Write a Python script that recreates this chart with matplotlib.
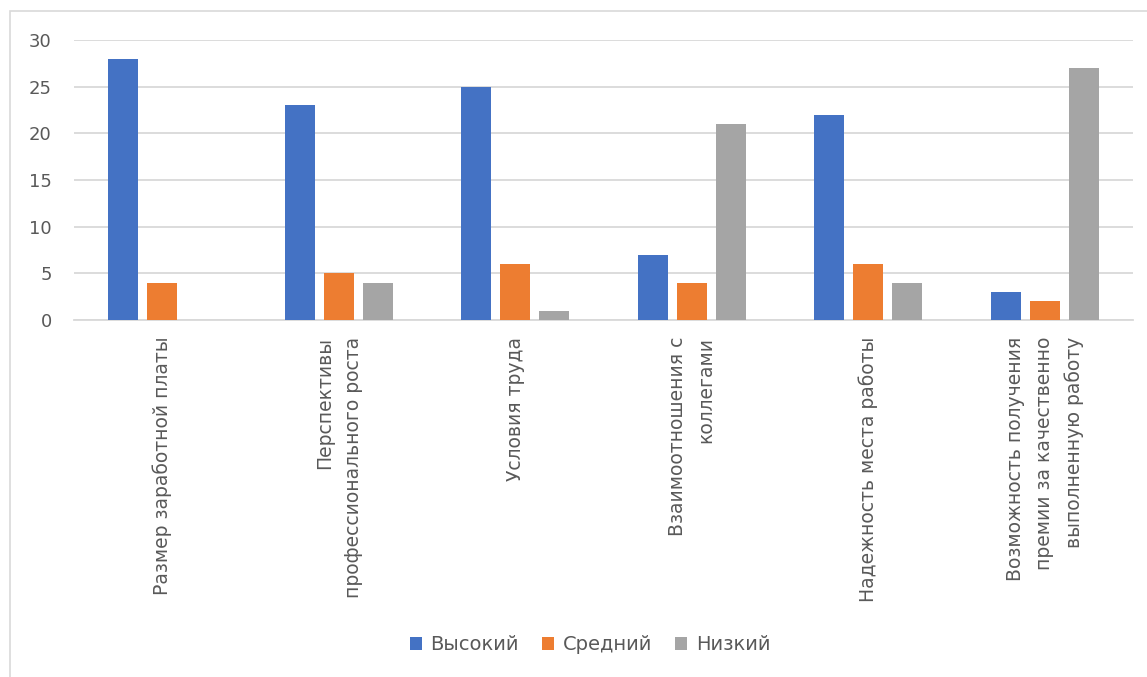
import matplotlib.pyplot as plt
import numpy as np
from matplotlib.patches import Rectangle

plt.rcParams['font.family'] = ['DejaVu Sans']

# data
categories = ["Размер заработной платы",
              "Перспективы\nпрофессионального роста",
              "Условия труда",
              "Взаимоотношения с\nколлегами",
              "Надежность места работы",
              "Возможность получения\nпремии за качественно\nвыполненную работу"]
high = [28, 23, 25, 7, 22, 3]
mid = [4, 5, 6, 4, 6, 2]
low = [0, 4, 1, 21, 4, 27]
series_names = ["Высокий", "Средний", "Низкий"]
colors = ["#4472c4", "#ed7d31", "#a5a5a5"]

txt = "#595959"
grid = "#d9d9d9"

fig = plt.figure(figsize=(11.47, 6.77), dpi=100)
ax = fig.add_axes([74/1147, 1-320/677, (1133-74)/1147, 280/677])

x = np.arange(len(categories))
w = 0.17
off = 0.222
for k, vals in enumerate([high, mid, low]):
    ax.bar(x + (k-1)*off, vals, width=w, color=colors[k], label=series_names[k], zorder=3)

ax.set_xlim(-0.5, len(categories)-0.5)
ax.set_ylim(0, 30)
ax.set_yticks(range(0, 31, 5))
ax.yaxis.grid(True, color=grid, linewidth=1.3, zorder=0)
for s in ["top", "right", "left"]:
    ax.spines[s].set_visible(False)
ax.spines["bottom"].set_color(grid)
ax.spines["bottom"].set_linewidth(1.3)
ax.tick_params(axis="y", length=0, labelsize=13, labelcolor=txt, pad=16)
ax.tick_params(axis="x", length=0)
ax.set_xticks(x)
ax.set_xticklabels([])

for i, lab in enumerate(categories):
    ax.annotate(lab, xy=(i, 0), xycoords="data", xytext=(0, -12), textcoords="offset points",
                rotation=90, ha="center", va="top", multialignment="right",
                fontsize=13.5, color=txt, linespacing=1.65)

leg = fig.legend(loc="center", bbox_to_anchor=(590/1147, 1-645/677), ncol=3, frameon=False,
                 fontsize=14, handlelength=0.6, handleheight=0.6, handletextpad=0.45,
                 columnspacing=1.2)
for t in leg.get_texts():
    t.set_color(txt)

# chart border (only top and left edges fall inside the image)
fig.patches.append(Rectangle((10/1147, -0.01), 1.02, 1-11/677+0.01, transform=fig.transFigure,
                             fill=False, edgecolor=grid, linewidth=1.2))

fig.savefig("out.png", dpi=100)
